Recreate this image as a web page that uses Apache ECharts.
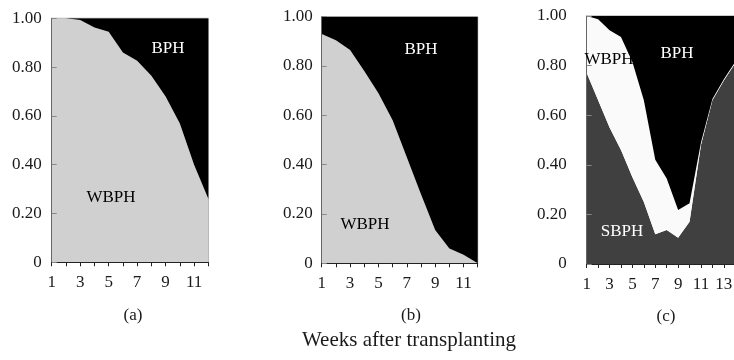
<!DOCTYPE html>
<html><head><meta charset="utf-8">
<script src="https://cdn.jsdelivr.net/npm/echarts@6/dist/echarts.min.js"></script>
<style>html,body{margin:0;padding:0;background:#fff}#c{width:734px;height:360px}</style>
</head><body><div id="c"></div>
<script>
// Weeks
const weeksA = ['1','2','3','4','5','6','7','8','9','10','11','12'];
const weeksB = ['1','2','3','4','5','6','7','8','9','10','11','12'];
const weeksC = ['1','2','3','4','5','6','7','8','9','10','11','12','13','14','15'];
// Panel (a)
const aWBPH = [1.00,1.00,0.993,0.962,0.945,0.86,0.826,0.765,0.68,0.569,0.40,0.26];
const aBPH  = [0.00,0.00,0.007,0.038,0.055,0.14,0.174,0.235,0.32,0.431,0.60,0.74];
// Panel (b)
const bWBPH = [0.93,0.905,0.865,0.78,0.69,0.58,0.43,0.28,0.135,0.06,0.035,0.0];
const bBPH  = [0.07,0.095,0.135,0.22,0.31,0.42,0.57,0.72,0.865,0.94,0.965,1.0];
// Panel (c)
const cSBPH = [0.77,0.66,0.55,0.46,0.35,0.25,0.12,0.137,0.106,0.17,0.48,0.66,0.74,0.81,0.86];
const cWBPH = [0.23,0.327,0.393,0.455,0.465,0.41,0.30,0.208,0.112,0.075,0.01,0.005,0.005,0.005,0.005];
const cBPH  = [0.00,0.013,0.057,0.085,0.185,0.34,0.58,0.655,0.782,0.755,0.51,0.335,0.255,0.185,0.135];
const yTicks = ['0','0.20','0.40','0.60','0.80','1.00'];

const FONT = '"Liberation Serif","DejaVu Serif",serif';
const TXT = '#1a1a1a';

const grids = [
  {left:51.7, top:18.3, width:156.6, height:244},
  {left:321.7, top:16.7, width:156, height:246.6},
  {left:586.7, top:16, width:160, height:248}
];
const cats = [weeksA, weeksB, weeksC];
const yMargin = [10,9,20];

const xAxis = grids.map((g,i)=>({
  type:'category', gridIndex:i, data:cats[i], boundaryGap:false, z:5,
  axisLine:{show:true, onZero:false, lineStyle:{color:'#222', width:1}},
  axisTick:{show:true, length:4, interval:0, lineStyle:{color:'#222'}},
  axisLabel:{margin:12, fontFamily:FONT, fontSize:17, color:TXT, interval:1},
  splitLine:{show:false}
}));
const yAxis = grids.map((g,i)=>({
  type:'value', gridIndex:i, min:0, max:1, interval:0.2, z:5,
  axisLine:{show:true, lineStyle:{color:'#666', width:1}},
  axisTick:{show:true, inside:true, length:5, lineStyle:{color:'#888'}},
  axisLabel:{margin:yMargin[i], fontFamily:FONT, fontSize:17, color:TXT,
    formatter:v=> yTicks[Math.round(v*5)]},
  splitLine:{show:false}
}));

function area(name, gi, ys, color){
  return {name, type:'line', xAxisIndex:gi, yAxisIndex:gi, stack:'s'+gi,
    data:ys, symbol:'none', smooth:false, silent:true, clip:true,
    lineStyle:{width:0}, areaStyle:{color, opacity:1}};
}
const series = [
  area('WBPH',0,aWBPH,'#d0d0d0'),
  area('BPH',0,aBPH,'#000000'),
  area('WBPH',1,bWBPH,'#d0d0d0'),
  area('BPH',1,bBPH,'#000000'),
  area('SBPH',2,cSBPH,'#404040'),
  area('WBPH',2,cWBPH,'#fafafa'),
  area('BPH',2,cBPH,'#000000')
];

function lbl(text,x,y,fill,size){
  return {type:'text', x, y, z:100, style:{text, fill, font:(size||17)+'px '+FONT, align:'center', verticalAlign:'middle'}};
}
const graphic = [
  lbl('BPH',168,49,'#fff'),
  lbl('WBPH',111,198,'#000'),
  lbl('BPH',421,50,'#fff'),
  lbl('WBPH',365,225,'#000'),
  lbl('WBPH',609,60,'#000'),
  lbl('BPH',677,54,'#fff'),
  lbl('SBPH',622,232,'#fff'),
  lbl('(a)',133,316,TXT),
  lbl('(b)',411,316,TXT),
  lbl('(c)',666,317,TXT),
  lbl('Weeks after transplanting',409,340,TXT,21)
];

const chart = echarts.init(document.getElementById('c'), null, {renderer:'canvas'});
chart.setOption({
  animation:false,
  backgroundColor:'#fff',
  grid: grids.map(g=>Object.assign({show:true, borderColor:'#999', borderWidth:1, backgroundColor:'transparent', containLabel:false, outerBoundsMode:'none'}, g)),
  xAxis, yAxis, series, graphic
});
</script></body></html>
